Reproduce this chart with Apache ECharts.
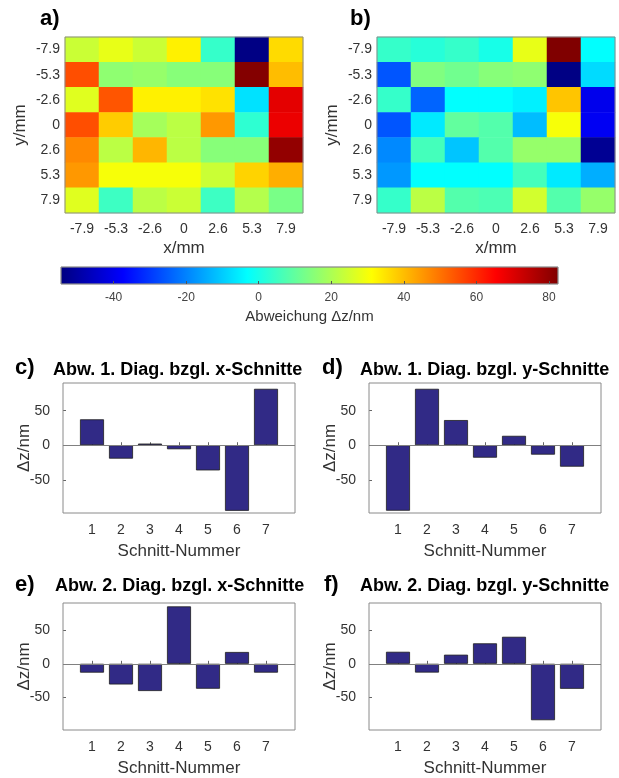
<!DOCTYPE html>
<html>
<head>
<meta charset="utf-8">
<script src="https://cdn.jsdelivr.net/npm/echarts@6/dist/echarts.min.js"></script>
<style>
  html, body { margin: 0; padding: 0; background: #fff; }
  #chart { width: 619px; height: 778px; }
</style>
</head>
<body>
<div id="chart"></div>
<script>
// Achsenbeschriftungen der Karten (mm)
var posLabels = ['-7.9', '-5.3', '-2.6', '0', '2.6', '5.3', '7.9'];
// Abweichung in nm, Zeilen von y=-7.9 (oben) bis y=7.9 (unten)
var mapA = [
    [24, 28, 24, 33, 4, -54, 36],
    [55, 16, 17, 15, 15, 82, 40],
    [27, 54, 33, 33, 35, -7, 69],
    [55, 38, 19, 22, 45, 3, 68],
    [47, 22, 41, 22, 15, 15, 80],
    [45, 30, 30, 30, 24, 37, 42],
    [27, 5, 22, 24, 5, 21, 13]
];
var mapB = [
    [4, 2, 4, 0, 28, 82.5, -3],
    [-26, 14, 12, 15, 16, -54, -8],
    [4, -24, -3, -3, -5, 39, -40],
    [-26, -6, 10, 8, -12, 30, -39],
    [-19, 6, -11, 8, 17, 17, -52],
    [-17, -3, -3, -3, 6, -6, -14],
    [4, 22, 8, 7, 25, 8, 17]
];
var colorRange = [-54.5, 82.5];
var colorTicks = [-40, -20, 0, 20, 40, 60, 80];

// Schnitt-Diagramme
var cutNumbers = [1, 2, 3, 4, 5, 6, 7];
var cutRange = [0, 8];
var diag1X = [37.5, -19.4, 2.4, -5.8, -36.4, -94.8, 81.6];
var diag1Y = [-94.7, 81.6, 36.4, -18, 13.6, -13.6, -31];
var diag2X = [-13.1, -30.6, -40.3, 85, -36.9, 17.5, -13.1];
var diag2Y = [17.8, -13, 13.5, 30.3, 40, -83.5, -37];
var barRange = [-98, 90];
var barTicks = [-50, 0, 50];

var FONT = 'Liberation Sans, Arial, sans-serif';
var TXT = '#333333';
var jet = ['#000080', '#0000ff', '#0080ff', '#00ffff', '#80ff80', '#ffff00', '#ff8000', '#ff0000', '#800000'];

var chart = echarts.init(document.getElementById('chart'));

function cells(m) {
    var out = [];
    for (var r = 0; r < m.length; r++) {
        for (var c = 0; c < m[r].length; c++) {
            out.push([c, r, m[r][c]]);
        }
    }
    return out;
}

var grids = [
    {left: 65, top: 37, width: 238, height: 176},   // a
    {left: 377, top: 37, width: 238, height: 176},  // b
    {left: 61, top: 267, width: 497, height: 17},   // Farbskala
    {left: 63, top: 383, width: 232, height: 130},  // c
    {left: 369, top: 383, width: 232, height: 130}, // d
    {left: 63, top: 603, width: 232, height: 129},  // e
    {left: 369, top: 603, width: 232, height: 129}  // f
];
grids.forEach(function (g) {
    g.show = true;
    g.z = 3;
    g.borderColor = '#8a8a8a';
    g.borderWidth = 1;
    g.backgroundColor = 'transparent';
});

var xAxes = [], yAxes = [];
[0, 1].forEach(function (i) {
    xAxes.push({
        gridIndex: i, type: 'category', data: posLabels,
        axisLine: {show: false},
        axisTick: {show: true, inside: true, length: 3, alignWithLabel: true, lineStyle: {color: '#666'}},
        axisLabel: {fontSize: 14, color: TXT, fontFamily: FONT, margin: 9},
        name: 'x/mm', nameLocation: 'middle', nameGap: 27,
        nameTextStyle: {fontSize: 17, color: TXT, fontFamily: FONT}
    });
    yAxes.push({
        gridIndex: i, type: 'category', data: posLabels, inverse: true,
        axisLine: {show: false},
        axisTick: {show: true, inside: true, length: 3, alignWithLabel: true, lineStyle: {color: '#666'}},
        axisLabel: {fontSize: 14, color: TXT, fontFamily: FONT, margin: 5},
        name: 'y/mm', nameLocation: 'middle', nameGap: 36, nameMoveOverlap: false,
        nameTextStyle: {fontSize: 17, color: TXT, fontFamily: FONT}
    });
});
// Farbskala
xAxes.push({
    gridIndex: 2, type: 'value', min: colorRange[0], max: colorRange[1], z: 5,
    axisLine: {show: false}, splitLine: {show: false},
    axisTick: {show: true, inside: true, length: 3, customValues: colorTicks, lineStyle: {color: '#555'}},
    axisLabel: {fontSize: 12, color: '#444', fontFamily: FONT, margin: 8, customValues: colorTicks},
    name: 'Abweichung \u0394z/nm', nameLocation: 'middle', nameGap: 25,
    nameTextStyle: {fontSize: 15, color: TXT, fontFamily: FONT}
});
yAxes.push({gridIndex: 2, type: 'value', min: 0, max: 1, show: false});

[3, 4, 5, 6].forEach(function (i) {
    xAxes.push({
        gridIndex: i, type: 'value', min: cutRange[0], max: cutRange[1],
        axisLine: {show: false}, splitLine: {show: false},
        axisTick: {show: true, inside: true, length: 3, customValues: cutNumbers, lineStyle: {color: '#666'}},
        axisLabel: {fontSize: 14, color: TXT, fontFamily: FONT, margin: 10, customValues: cutNumbers},
        name: 'Schnitt-Nummer', nameLocation: 'middle', nameGap: 30,
        nameTextStyle: {fontSize: 17, color: TXT, fontFamily: FONT}
    });
    yAxes.push({
        gridIndex: i, type: 'value', min: barRange[0], max: barRange[1],
        axisLine: {show: false}, splitLine: {show: false},
        axisTick: {show: true, inside: true, length: 3, customValues: barTicks, lineStyle: {color: '#666'}},
        axisLabel: {fontSize: 14, color: TXT, fontFamily: FONT, margin: 13, customValues: barTicks},
        name: '\u0394z/nm', nameLocation: 'middle', nameGap: 30, nameMoveOverlap: false,
        nameTextStyle: {fontSize: 17, color: TXT, fontFamily: FONT}
    });
});

function barSeries(idx, vals) {
    return {
        type: 'bar', xAxisIndex: idx, yAxisIndex: idx,
        data: vals.map(function (v, i) { return [cutNumbers[i], v]; }),
        barWidth: 24,
        itemStyle: {color: '#312a86', borderColor: '#1e1e1e', borderWidth: 0.8},
        markLine: {
            silent: true, symbol: 'none', label: {show: false},
            lineStyle: {color: '#808080', type: 'solid', width: 1},
            data: [{yAxis: 0}]
        }
    };
}

var jetStops = jet.map(function (c, i) { return {offset: i / (jet.length - 1), color: c}; });

function title(text, left, top, size) {
    return {
        text: text, left: left, top: top, padding: 0,
        textStyle: {fontSize: size, fontWeight: 'bold', color: '#000', fontFamily: FONT}
    };
}

var option = {
    animation: false,
    title: [
        title('a)', 40, 8, 22),
        title('b)', 350, 8, 22),
        title('c)', 15, 357, 22),
        title('Abw. 1. Diag. bzgl. x-Schnitte', 53, 361, 18),
        title('d)', 322, 357, 22),
        title('Abw. 1. Diag. bzgl. y-Schnitte', 360, 361, 18),
        title('e)', 15, 574, 22),
        title('Abw. 2. Diag. bzgl. x-Schnitte', 55, 577, 18),
        title('f)', 324, 574, 22),
        title('Abw. 2. Diag. bzgl. y-Schnitte', 360, 577, 18)
    ],
    grid: grids,
    xAxis: xAxes,
    yAxis: yAxes,
    visualMap: {
        type: 'continuous', show: false, seriesIndex: [0, 1], dimension: 2,
        min: colorRange[0], max: colorRange[1],
        inRange: {color: jet}
    },
    series: [
        {type: 'heatmap', xAxisIndex: 0, yAxisIndex: 0, data: cells(mapA)},
        {type: 'heatmap', xAxisIndex: 1, yAxisIndex: 1, data: cells(mapB)},
        {
            type: 'custom', xAxisIndex: 2, yAxisIndex: 2, z: 1,
            data: [[colorRange[0], colorRange[1]]],
            encode: {x: [0, 1]},
            renderItem: function (params, api) {
                var p0 = api.coord([api.value(0), 0]);
                var p1 = api.coord([api.value(1), 1]);
                return {
                    type: 'rect',
                    shape: {x: p0[0], y: p1[1], width: p1[0] - p0[0], height: p0[1] - p1[1]},
                    style: {
                        fill: {type: 'linear', x: 0, y: 0, x2: 1, y2: 0, colorStops: jetStops},
                        stroke: '#8a8a8a', lineWidth: 0.5
                    }
                };
            }
        },
        barSeries(3, diag1X),
        barSeries(4, diag1Y),
        barSeries(5, diag2X),
        barSeries(6, diag2Y)
    ]
};
chart.setOption(option);
</script>
</body>
</html>
